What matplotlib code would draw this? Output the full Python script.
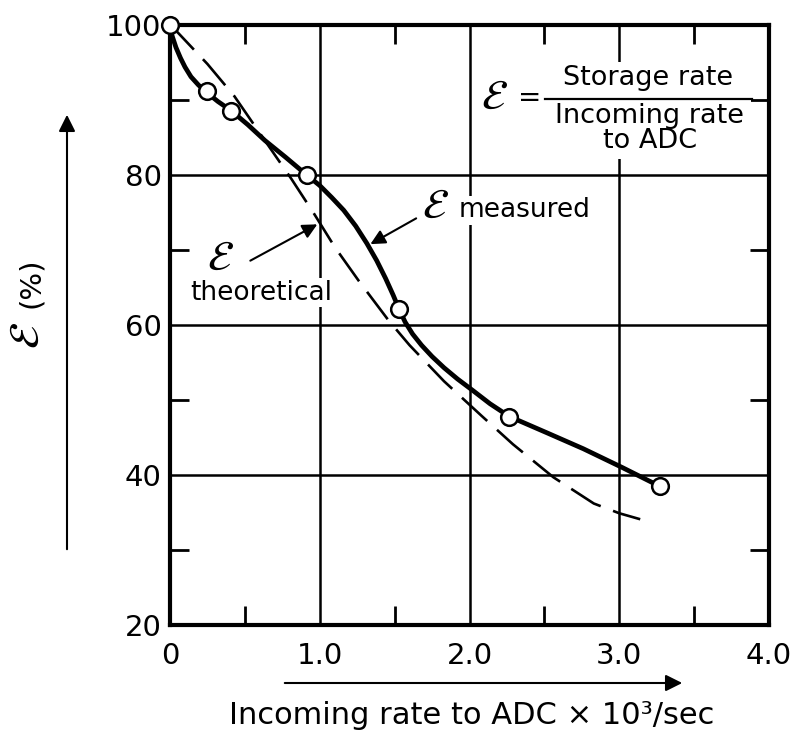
import matplotlib
matplotlib.use("Agg")
import matplotlib.pyplot as plt
from matplotlib.patches import Rectangle

plt.rcParams['font.family'] = ['DejaVu Sans']
plt.rcParams['mathtext.fontset'] = 'stix'

# measured points (open circles)
meas_x = [0, 0.245, 0.407, 0.913, 1.53, 2.266, 3.27]
meas_y = [100, 91.2, 88.6, 80.0, 62.1, 47.8, 38.5]

# measured curve
curve_x = [0, 0.015, 0.04, 0.07, 0.10, 0.14, 0.19, 0.245, 0.32, 0.407, 0.52,
           0.634, 0.77, 0.913, 1.0, 1.08, 1.16, 1.24, 1.314, 1.38, 1.44,
           1.49, 1.53, 1.57, 1.62, 1.68, 1.75, 1.83, 1.92, 2.02, 2.137,
           2.266, 2.52, 2.76, 3.02, 3.27]
curve_y = [100, 98.5, 97.0, 95.6, 94.4, 93.1, 92.0, 91.0, 89.8, 88.6, 86.7,
           84.6, 82.4, 80.0, 78.6, 77.0, 75.3, 73.2, 70.9, 68.6, 66.2,
           64.0, 62.1, 60.4, 58.8, 57.3, 55.8, 54.3, 52.8, 51.3, 49.5,
           47.8, 45.6, 43.5, 41.0, 38.5]

# theoretical curve (dashed), traced
theo_x = [0, 0.033, 0.25, 0.43, 0.63, 0.81, 0.96, 1.10, 1.26, 1.46, 1.60,
          1.83, 2.08, 2.29, 2.56, 2.83, 3.00, 3.14]
theo_y = [100, 99.4, 94.8, 90.5, 84.7, 79.5, 74.9, 70.4, 65.9, 60.6, 57.3,
          52.5, 47.9, 44.1, 39.7, 36.2, 34.9, 34.1]

x_ticks = [0, 1, 2, 3, 4]
x_ticklabels = ['0', '1.0', '2.0', '3.0', '4.0']
y_ticks = [20, 40, 60, 80, 100]
x_minor = [0.5, 1.5, 2.5, 3.5]
y_minor = [30, 50, 70, 90]

E = r'$\mathcal{E}$'

W, H = 799, 737
fig = plt.figure(figsize=(W / 100, H / 100), dpi=100)
ax = fig.add_axes([170 / W, 1 - 625 / H, 599 / W, 600 / H])

ax.set_xlim(0, 4)
ax.set_ylim(20, 100)
ax.set_xticks(x_ticks)
ax.set_xticklabels(x_ticklabels)
ax.set_yticks(y_ticks)
ax.set_xticks(x_minor, minor=True)
ax.set_yticks(y_minor, minor=True)
ax.tick_params(which='major', length=0, labelsize=21)
ax.tick_params(axis='x', which='major', pad=12)
ax.tick_params(axis='y', which='major', pad=6)
ax.tick_params(which='minor', direction='in', length=14, width=2,
               top=True, right=True, bottom=True, left=True)
ax.grid(which='major', color='black', lw=1.8)
for s in ax.spines.values():
    s.set_linewidth(3)

# white area behind the formula
ax.add_patch(Rectangle((2.09, 82.2), 1.79, 12.9, facecolor='white',
                       edgecolor='none', zorder=2))

ax.plot(theo_x, theo_y, color='black', lw=1.9, dashes=(13, 5), zorder=3)
ax.plot(curve_x, curve_y, color='black', lw=3.4, zorder=4)
ax.plot(meas_x, meas_y, 'o', mfc='white', mec='black', ms=12, mew=1.8,
        zorder=6, clip_on=False)

box = dict(facecolor='white', edgecolor='none', pad=1)

# formula
ax.text(2.164, 90.4, E, fontsize=30, ha='center', va='center', zorder=5)
ax.text(2.40, 90.3, '=', fontsize=20, ha='center', va='center', zorder=5)
ax.plot([2.504, 3.886], [90.2, 90.2], color='black', lw=1.6, zorder=5)
ax.text(3.195, 92.9, 'Storage rate', fontsize=19.5, ha='center', va='center', zorder=5)
ax.text(3.205, 89.6, 'Incoming rate\nto ADC', fontsize=19.5, ha='center', va='top',
        linespacing=0.95, zorder=5)

# measured label
ax.text(1.77, 75.9, E, fontsize=30, ha='center', va='center', zorder=5)
ax.text(1.925, 75.3, 'measured', fontsize=19, ha='left', va='center',
        bbox=box, zorder=5)
ax.annotate('', xy=(1.322, 70.6), xytext=(1.66, 74.4),
            arrowprops=dict(arrowstyle='-|>', color='black', lw=1.5,
                            mutation_scale=22), zorder=5)

# theoretical label
ax.text(0.334, 69.0, E, fontsize=30, ha='center', va='center', zorder=5)
ax.text(0.608, 64.3, 'theoretical', fontsize=19, ha='center', va='center',
        bbox=box, zorder=5)
ax.annotate('', xy=(1.0, 73.6), xytext=(0.52, 68.4),
            arrowprops=dict(arrowstyle='-|>', color='black', lw=1.5,
                            mutation_scale=22), zorder=5)

# axis labels with arrows
fig.text(27 / W, 1 - 336 / H, E, rotation=90, fontsize=30,
         ha='center', va='center')
fig.text(31 / W, 1 - 283 / H, '(%)', rotation=90, fontsize=21,
         ha='center', va='center')
ax.annotate('', xy=(67 / W, 1 - 112 / H), xytext=(67 / W, 1 - 552 / H),
            xycoords='figure fraction', textcoords='figure fraction',
            arrowprops=dict(arrowstyle='-|>', color='black', lw=1.5,
                            mutation_scale=25))
ax.annotate('', xy=(685 / W, 1 - 683 / H), xytext=(282 / W, 1 - 683 / H),
            xycoords='figure fraction', textcoords='figure fraction',
            arrowprops=dict(arrowstyle='-|>', color='black', lw=1.5,
                            mutation_scale=25))
fig.text(472 / W, 1 - 716 / H, 'Incoming rate to ADC × 10³/sec', fontsize=22,
         ha='center', va='center')

fig.savefig('out.png', dpi=100, facecolor='white')
